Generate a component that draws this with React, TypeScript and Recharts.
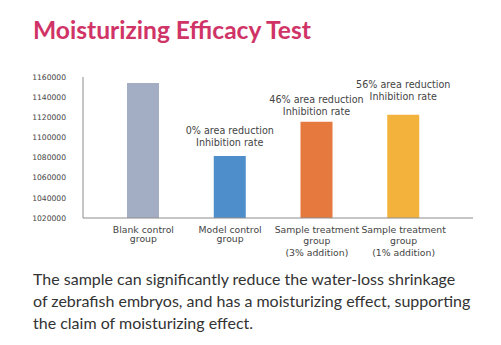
import React from 'react';
import { BarChart, Bar, XAxis, YAxis, Cell, LabelList } from 'recharts';

const categories = [
  'Blank control group',
  'Model control group',
  'Sample treatment group (3% addition)',
  'Sample treatment group (1% addition)',
];
const categoryLines = [
  ['Blank control', 'group'],
  ['Model control', 'group'],
  ['Sample treatment', 'group', '(3% addition)'],
  ['Sample treatment', 'group', '(1% addition)'],
];
const values = [1154000, 1081500, 1115500, 1122500];
const annotations = [
  [] as string[],
  ['0% area reduction', 'Inhibition rate'],
  ['46% area reduction', 'Inhibition rate'],
  ['56% area reduction', 'Inhibition rate'],
];
const yTicks = [1020000, 1040000, 1060000, 1080000, 1100000, 1120000, 1140000, 1160000];
const titleText = 'Moisturizing Efficacy Test';
const paragraphLines = [
  'The sample can significantly reduce the water-loss shrinkage',
  'of zebrafish embryos, and has a moisturizing effect, supporting',
  'the claim of moisturizing effect.',
];

const barColors = ['#a3adc3', '#4d8ecb', '#e6793e', '#f3b23b'];
const labelLift = [0, 10, 7, 15];
const chartFont = 'DejaVu Sans';
const textColor = '#444';

const data = categories.map((name, i) => ({ name, value: values[i], idx: i }));

const XTick = (props: any) => {
  const { x, y, payload } = props;
  const lines = categoryLines[payload.index] || [payload.value];
  const spacing = lines.length > 2 ? 11.5 : 9.5;
  return (
    <text x={x} y={y} textAnchor="middle" fontFamily={chartFont} fontSize={9.3} fill={textColor}>
      {lines.map((l, i) => (
        <tspan key={i} x={x} y={y + 14.5 + i * spacing}>
          {l}
        </tspan>
      ))}
    </text>
  );
};

const AnnotationLabel = (props: any) => {
  const { x, y, width, value } = props;
  const idx = Number(value);
  const lines = annotations[idx] || [];
  if (!lines.length) return null;
  const cx = x + width / 2;
  const baseY = y - labelLift[idx];
  const n = lines.length;
  return (
    <text textAnchor="middle" fontFamily={chartFont} fontSize={9.6} fill={textColor}>
      {lines.map((l, i) => (
        <tspan key={i} x={cx} y={baseY - (n - 1 - i) * 12}>
          {l}
        </tspan>
      ))}
    </text>
  );
};

export default function App() {
  return (
    <div style={{ position: 'absolute', left: 0, top: 0, width: 501, height: 345, background: '#fff', overflow: 'hidden' }}>
      <div
        style={{
          position: 'absolute',
          left: 33,
          top: 15,
          fontFamily: 'Lato',
          fontWeight: 700,
          fontSize: 24.6,
          lineHeight: '30px',
          color: '#d03467',
          whiteSpace: 'nowrap',
        }}
      >
        {titleText}
      </div>
      <div style={{ position: 'absolute', left: 0, top: 0 }}>
        <BarChart width={501} height={260} data={data} margin={{ top: 77, right: 28, bottom: 0, left: 0 }}>
          <XAxis
            dataKey="name"
            height={42}
            interval={0}
            tickLine={false}
            tickSize={0}
            tickMargin={0}
            padding={{ left: 17, right: 26 }}
            axisLine={{ stroke: '#8c8c8c', strokeWidth: 1 }}
            tick={<XTick />}
          />
          <YAxis
            width={83}
            domain={[1020000, 1160000]}
            ticks={yTicks}
            interval={0}
            allowDataOverflow
            tickLine={false}
            tickSize={0}
            tickMargin={17}
            axisLine={{ stroke: '#8c8c8c', strokeWidth: 1 }}
            tick={{ fontFamily: chartFont, fontSize: 7.6, fill: textColor }}
          />
          <Bar dataKey="value" barSize={32} isAnimationActive={false}>
            {data.map((d, i) => (
              <Cell key={d.name} fill={barColors[i]} />
            ))}
            <LabelList dataKey="idx" content={<AnnotationLabel />} />
          </Bar>
        </BarChart>
      </div>
      <div
        style={{
          position: 'absolute',
          left: 33,
          top: 268,
          fontFamily: 'Lato',
          fontSize: 16,
          lineHeight: '22px',
          color: '#333',
          whiteSpace: 'nowrap',
        }}
      >
        {paragraphLines.map((l, i) => (
          <div key={i}>{l}</div>
        ))}
      </div>
    </div>
  );
}
